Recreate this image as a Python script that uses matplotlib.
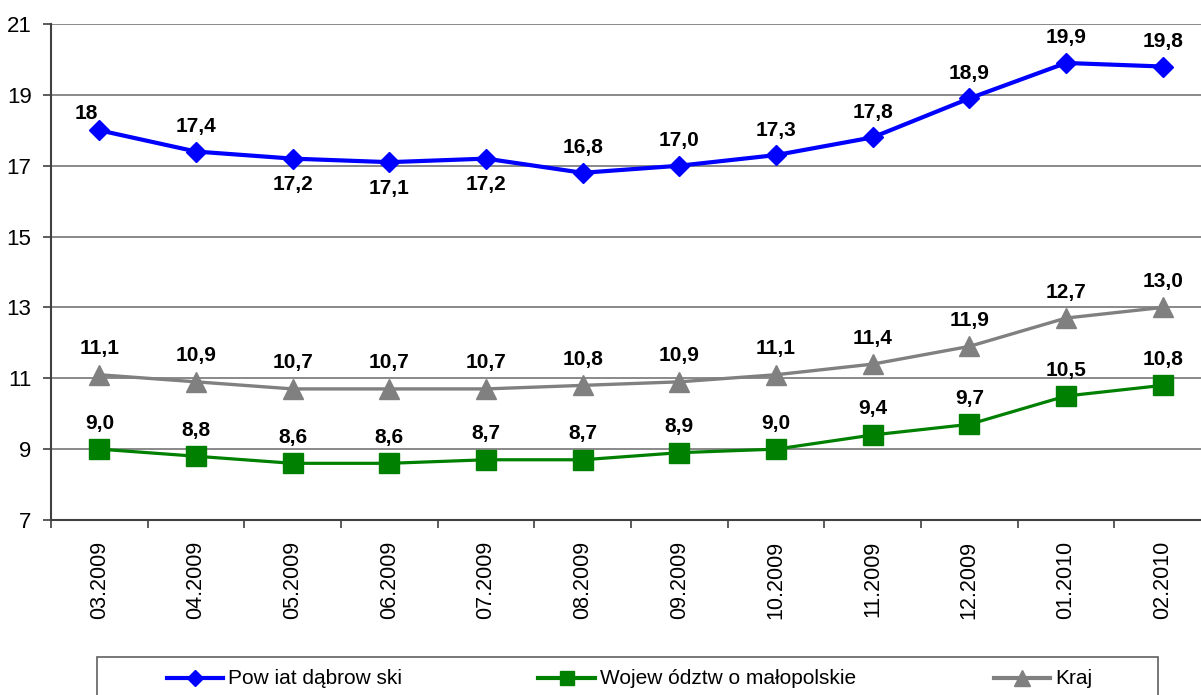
import matplotlib
matplotlib.use('Agg')
import matplotlib.pyplot as plt
from matplotlib.lines import Line2D
from matplotlib.patches import Rectangle

plt.rcParams['font.family'] = ['Liberation Sans', 'DejaVu Sans']

months = ['03.2009', '04.2009', '05.2009', '06.2009', '07.2009', '08.2009',
          '09.2009', '10.2009', '11.2009', '12.2009', '01.2010', '02.2010']
powiat = [18.0, 17.4, 17.2, 17.1, 17.2, 16.8, 17.0, 17.3, 17.8, 18.9, 19.9, 19.8]
powiat_labels = ['18', '17,4', '17,2', '17,1', '17,2', '16,8', '17,0', '17,3',
                 '17,8', '18,9', '19,9', '19,8']
woj = [9.0, 8.8, 8.6, 8.6, 8.7, 8.7, 8.9, 9.0, 9.4, 9.7, 10.5, 10.8]
kraj = [11.1, 10.9, 10.7, 10.7, 10.7, 10.8, 10.9, 11.1, 11.4, 11.9, 12.7, 13.0]
names = ['Pow iat dąbrow ski', 'Wojew ództw o małopolskie', 'Kraj']

fig = plt.figure(figsize=(12.01, 6.95), dpi=100)
ax = fig.add_axes([51 / 1201, 1 - 520 / 695, 1160 / 1201, 496 / 695])

x = list(range(len(months)))
blue, green, gray = '#0000FF', '#008000', '#808080'

ax.plot(x, powiat, color=blue, lw=3, marker='D', ms=10.5, mec=blue, zorder=4)
ax.plot(x, woj, color=green, lw=2.3, marker='s', ms=14, mec=green, zorder=4)
ax.plot(x, kraj, color=gray, lw=2.4, marker='^', ms=15, mec=gray, zorder=4)

below = [2, 3, 4]
for i, (v, s) in enumerate(zip(powiat, powiat_labels)):
    dy = -26 if i in below else 25
    dx = 0
    if i == 0:
        dx, dy = -13, 17
    ax.annotate(s, (i, v), xytext=(dx, dy), textcoords='offset pixels',
                ha='center', va='center', fontsize=15, fontweight='bold')
for series in (woj, kraj):
    for i, v in enumerate(series):
        ax.annotate(f'{v:.1f}'.replace('.', ','), (i, v), xytext=(0, 26),
                    textcoords='offset pixels', ha='center', va='center',
                    fontsize=15, fontweight='bold')

ax.set_xlim(-0.5, len(months) - 0.5)
ax.set_ylim(7, 21)
ax.set_yticks(range(7, 22, 2))
ax.set_xticks(x)
ax.set_xticklabels(months, rotation=90, fontsize=15.5)
ax.set_xticks([i - 0.5 for i in range(len(months) + 1)], minor=True)
ax.tick_params(axis='x', which='major', length=0, pad=15)
ax.tick_params(axis='x', which='minor', length=6, width=1.2, color='#404040', direction='out')
ax.tick_params(axis='y', length=6, width=1.2, color='#404040', pad=8, labelsize=16)

ax.grid(axis='y', color='#808080', lw=1.3)
ax.set_axisbelow(True)
for side in ('top', 'right'):
    ax.spines[side].set_visible(False)
for side in ('left', 'bottom'):
    ax.spines[side].set_color('#404040')
    ax.spines[side].set_linewidth(1.5)

# legend box at the bottom
W, H = 1201, 695
fig.patches.append(Rectangle((97 / W, -0.05), (1158 - 97) / W, 0.05 + 1 - 657 / H,
                             transform=fig.transFigure, fill=False,
                             edgecolor='#606060', lw=1.2))
handles = [(167, 223, blue, 'D', 8), (538, 595, green, 's', 10), (994, 1050, gray, '^', 11)]
ly = 1 - 678 / H
for (x0, x1, c, m, s), name in zip(handles, names):
    fig.add_artist(Line2D([x0 / W, x1 / W], [ly, ly], transform=fig.transFigure,
                          color=c, lw=3))
    fig.add_artist(Line2D([(x0 + x1) / 2 / W], [ly], transform=fig.transFigure,
                          color=c, marker=m, ms=s, mec=c))
    fig.text((x1 + 5) / W, ly, name, ha='left', va='center', fontsize=15)

fig.savefig('out.png', dpi=100)
